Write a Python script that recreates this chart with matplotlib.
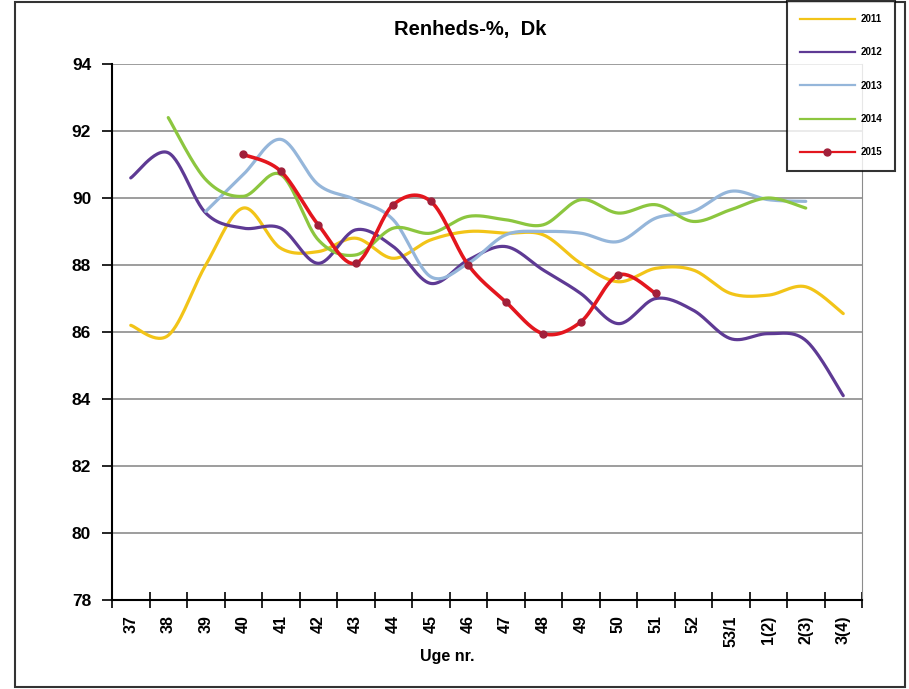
import numpy as np
import matplotlib
matplotlib.use("Agg")
import matplotlib.pyplot as plt
from matplotlib.patches import Rectangle
from matplotlib.lines import Line2D

weeks = ["37", "38", "39", "40", "41", "42", "43", "44", "45", "46", "47", "48",
         "49", "50", "51", "52", "53/1", "1(2)", "2(3)", "3(4)"]
nan = np.nan
s2011 = [86.2, 85.9, 88.0, 89.7, 88.5, 88.4, 88.8, 88.2, 88.75, 89.0, 88.95, 88.9,
         88.05, 87.5, 87.9, 87.85, 87.15, 87.1, 87.35, 86.55]
s2012 = [90.6, 91.35, 89.55, 89.1, 89.1, 88.05, 89.05, 88.55, 87.45, 88.15, 88.55, 87.85,
         87.15, 86.25, 87.0, 86.65, 85.8, 85.95, 85.75, 84.1]
s2013 = [nan, nan, 89.6, 90.7, 91.75, 90.4, 89.95, 89.35, 87.65, 88.05, 88.9, 89.0,
         88.95, 88.7, 89.4, 89.6, 90.2, 89.95, 89.9, nan]
s2014 = [nan, 92.4, 90.55, 90.05, 90.7, 88.75, 88.3, 89.1, 88.95, 89.45, 89.35, 89.2,
         89.95, 89.55, 89.8, 89.3, 89.65, 90.0, 89.7, nan]
s2015 = [nan, nan, nan, 91.3, 90.8, 89.2, 88.05, 89.8, 89.9, 88.0, 86.9, 85.95,
         86.3, 87.7, 87.15, nan, nan, nan, nan, nan]
labels = ["2011", "2012", "2013", "2014", "2015"]
colors = ["#F2C418", "#5E3A94", "#95B6DA", "#8CC63F", "#E3161E"]


def smooth(x, y, n=30):
    x = np.asarray(x, float); y = np.asarray(y, float)
    if len(x) < 3:
        return x, y
    xs, ys = [], []
    m = len(x)
    for i in range(m - 1):
        p0 = (x[i - 1], y[i - 1]) if i > 0 else (x[i], y[i])
        p1 = (x[i], y[i]); p2 = (x[i + 1], y[i + 1])
        p3 = (x[i + 2], y[i + 2]) if i + 2 < m else (x[i + 1], y[i + 1])
        b1 = (p1[0] + (p2[0] - p0[0]) / 6, p1[1] + (p2[1] - p0[1]) / 6)
        b2 = (p2[0] - (p3[0] - p1[0]) / 6, p2[1] - (p3[1] - p1[1]) / 6)
        t = np.linspace(0, 1, n, endpoint=(i == m - 2))
        for k in range(2):
            P = [p1[k], b1[k], b2[k], p2[k]]
            v = ((1 - t) ** 3 * P[0] + 3 * (1 - t) ** 2 * t * P[1]
                 + 3 * (1 - t) * t ** 2 * P[2] + t ** 3 * P[3])
            (xs if k == 0 else ys).append(v)
    return np.concatenate(xs), np.concatenate(ys)


plt.rcParams['font.family'] = ['Liberation Sans', 'DejaVu Sans']
fig = plt.figure(figsize=(9.09, 6.89), dpi=100)
ax = fig.add_axes([112 / 909, 1 - 600 / 689, 750 / 909, 536 / 689])

xpos = np.arange(len(weeks))
series = [s2011, s2012, s2013, s2014, s2015]
handles = []
for s, lab, c in zip(series, labels, colors):
    arr = np.array(s, float)
    ok = ~np.isnan(arr)
    sx, sy = smooth(xpos[ok], arr[ok])
    ax.plot(sx, sy, color=c, lw=2.3 if lab != "2015" else 2.6, solid_capstyle='round', zorder=3)
    if lab == "2015":
        ax.plot(xpos[ok], arr[ok], 'o', ms=5, color="#A1203A", zorder=4)
        handles.append(Line2D([], [], color=c, lw=1.6, marker='o', ms=5,
                              markerfacecolor="#A1203A", markeredgecolor="#A1203A"))
    else:
        handles.append(Line2D([], [], color=c, lw=1.6))

ax.set_xlim(-0.5, len(weeks) - 0.5)
ax.set_ylim(78, 94)
ax.set_yticks(np.arange(78, 95, 2))
ax.yaxis.grid(True, color="#8C8C8C", lw=1.2)
ax.set_axisbelow(True)
ax.set_xticks(np.arange(-0.5, len(weeks), 1))
ax.set_xticklabels([])
ax.set_xticks(xpos, minor=True)
ax.set_xticklabels(weeks, minor=True, rotation=90, fontsize=11.5, fontweight='bold',
                   va='top', ha='center')
ax.tick_params(axis='x', which='major', direction='inout', length=12, width=1.2)
ax.tick_params(axis='x', which='minor', length=0, pad=11)
ax.tick_params(axis='y', direction='out', length=7, width=1.2, pad=8,
               labelsize=12.5)
for t in ax.get_yticklabels():
    t.set_fontweight('bold')
ax.spines['top'].set_visible(False)
ax.spines['right'].set_color("#8C8C8C")
ax.spines['left'].set_linewidth(1.5)
ax.spines['bottom'].set_linewidth(1.5)

fig.text(470 / 909, 1 - 30 / 689, "Renheds-%,  Dk", fontsize=14.5, fontweight='bold',
         ha='center', va='center')
fig.text(447 / 909, 1 - 657 / 689, "Uge nr.", fontsize=11.5, fontweight='bold',
         ha='center', va='center')

leg = fig.legend(handles, labels, loc='upper left', bbox_to_anchor=(787 / 909, 1 - 1 / 689),
                 prop={'size': 7, 'weight': 'bold'}, handlelength=5.6, labelspacing=2.4,
                 frameon=True, fancybox=False, edgecolor='black', borderpad=1.35,
                 borderaxespad=0, handletextpad=0.6)
leg.get_frame().set_linewidth(1.5)

fig.patches.append(Rectangle((15 / 909, 2 / 689), 890 / 909, 685 / 689,
                             transform=fig.transFigure, fill=False, edgecolor='#333333',
                             lw=1.5, zorder=0))

fig.savefig("out.png", dpi=100)
